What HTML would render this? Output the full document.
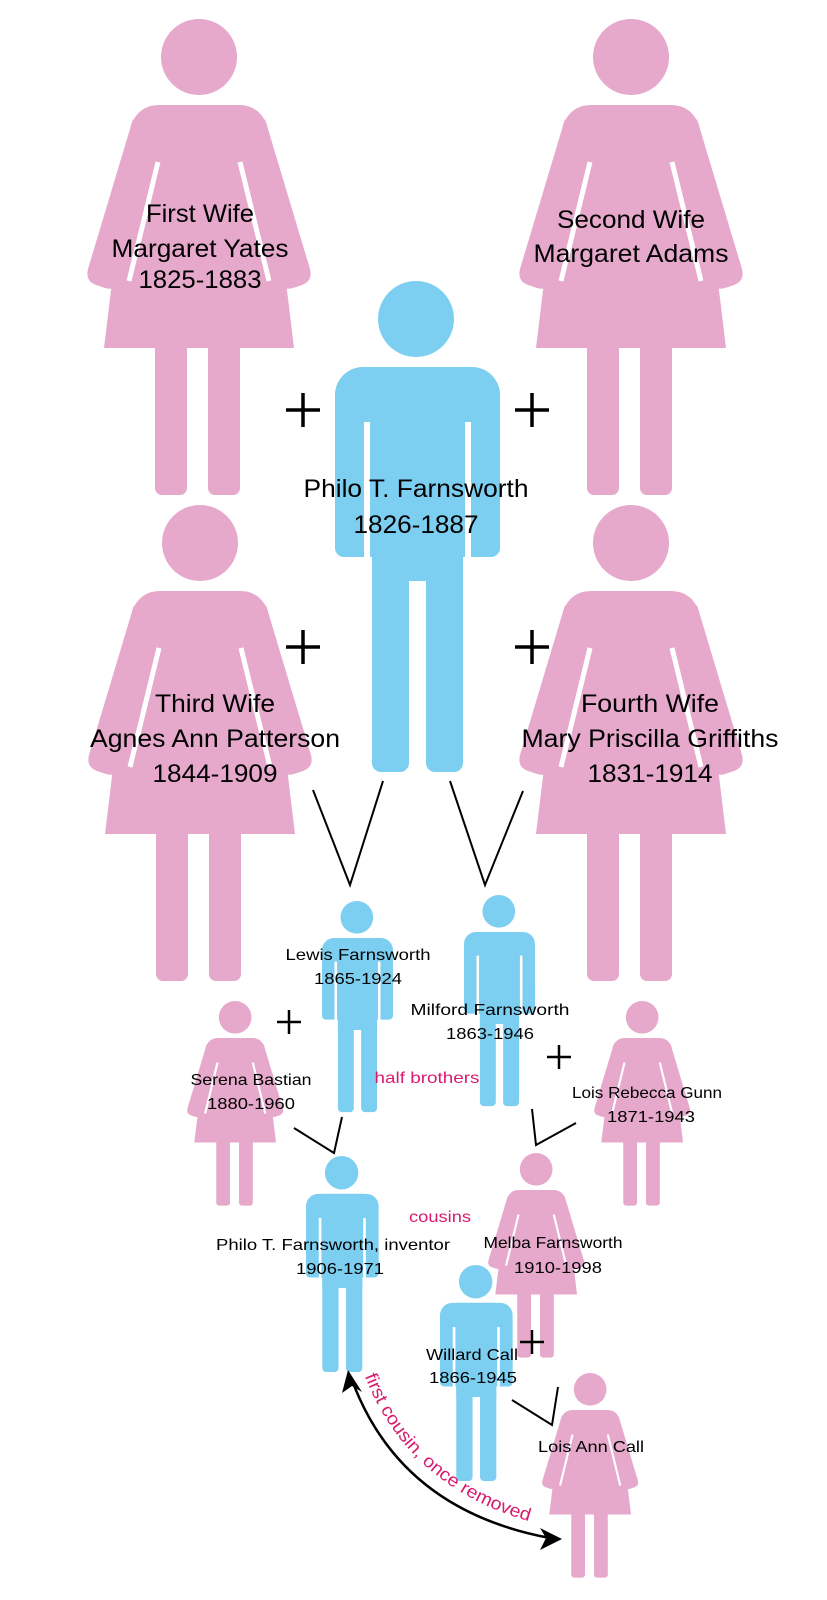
<!DOCTYPE html>
<html><head><meta charset="utf-8"><style>html,body{margin:0;padding:0;background:#fff}svg{display:block}</style></head>
<body>
<svg width="827" height="1600" viewBox="0 0 827 1600" xmlns="http://www.w3.org/2000/svg">
<defs>
<g id="woman">
  <circle cx="112" cy="38" r="38" fill="#e6a9cb"/>
  <path d="M72,86 L152,86 Q172,86 180,106 L207,329 L17,329 L44,106 Q52,86 72,86 Z" fill="#e6a9cb"/>
  <path d="M46,100 L1,250 Q-2,262 9,266 L18,269 Q28,272 31,262 L62,150 Z" fill="#e6a9cb"/>
  <path d="M178,100 L223,250 Q226,262 215,266 L206,269 Q196,272 193,262 L162,150 Z" fill="#e6a9cb"/>
  <line x1="71" y1="143" x2="42" y2="262" stroke="#fff" stroke-width="5"/>
  <line x1="153" y1="143" x2="182" y2="262" stroke="#fff" stroke-width="5"/>
  <rect x="68" y="320" width="32" height="156" rx="7" fill="#e6a9cb"/>
  <rect x="121" y="320" width="32" height="156" rx="7" fill="#e6a9cb"/>
</g>
<g id="man">
  <circle cx="81" cy="38" r="38" fill="#7ccff0"/>
  <rect x="0" y="86" width="165" height="190" rx="28" fill="#7ccff0"/>
  <rect x="0" y="200" width="165" height="76" rx="9" fill="#7ccff0"/>
  <rect x="37" y="86" width="91" height="214" fill="#7ccff0"/>
  <rect x="37" y="270" width="37" height="221" rx="9" fill="#7ccff0"/>
  <rect x="91" y="270" width="37" height="221" rx="9" fill="#7ccff0"/>
  <rect x="29" y="141" width="6" height="140" fill="#fff"/>
  <rect x="130" y="141" width="6" height="140" fill="#fff"/>
</g>
</defs>

<use href="#woman" transform="translate(87,19)"/>
<use href="#woman" transform="translate(519,19)"/>
<use href="#woman" transform="translate(88,505)"/>
<use href="#woman" transform="translate(519,505)"/>
<use href="#man" transform="translate(335,281)"/>

<use href="#man" transform="translate(322,901) scale(0.43)"/>
<use href="#man" transform="translate(464,895) scale(0.43)"/>
<use href="#woman" transform="translate(187,1001) scale(0.43)"/>
<use href="#woman" transform="translate(594,1001) scale(0.43)"/>
<use href="#man" transform="translate(306,1156) scale(0.44)"/>
<use href="#woman" transform="translate(488,1153) scale(0.43)"/>
<use href="#man" transform="translate(440,1265) scale(0.44)"/>
<use href="#woman" transform="translate(542,1373) scale(0.43)"/>

<g stroke="#000" stroke-width="2" fill="none">
  <polyline points="313,790 350,885 383,781"/>
  <polyline points="450,781 485,885 523,791"/>
  <polyline points="294,1128 334,1153 342,1117"/>
  <polyline points="532,1109 536,1145 576,1123"/>
  <polyline points="512,1400 552,1425 558,1387"/>
</g>
<g stroke="#000" stroke-width="3.5">
  <line x1="286" y1="410" x2="320" y2="410"/><line x1="303" y1="393" x2="303" y2="427"/>
  <line x1="515" y1="410" x2="549" y2="410"/><line x1="532" y1="393" x2="532" y2="427"/>
  <line x1="286" y1="647" x2="320" y2="647"/><line x1="303" y1="630" x2="303" y2="664"/>
  <line x1="515" y1="647" x2="549" y2="647"/><line x1="532" y1="630" x2="532" y2="664"/>
</g>
<g stroke="#000" stroke-width="2.5">
  <line x1="277" y1="1022" x2="301" y2="1022"/><line x1="289" y1="1010" x2="289" y2="1034"/>
  <line x1="547" y1="1057" x2="571" y2="1057"/><line x1="559" y1="1045" x2="559" y2="1069"/>
  <line x1="520" y1="1342" x2="544" y2="1342"/><line x1="532" y1="1330" x2="532" y2="1354"/>
</g>

<path d="M352,1380 Q400,1510 550,1538" stroke="#000" stroke-width="2.5" fill="none"/>
<polygon points="348,1370 342,1393 352,1386 362,1392" fill="#000"/>
<polygon points="562,1539 540,1528 546,1538 540,1550" fill="#000"/>
<path id="tp" d="M364,1374 Q410,1496 552,1527" fill="none"/>

<g font-family="'Liberation Sans', sans-serif" fill="#000" text-anchor="middle" font-size="25">
  <text x="200" y="222" textLength="108" lengthAdjust="spacingAndGlyphs">First Wife</text>
  <text x="200" y="257" textLength="177" lengthAdjust="spacingAndGlyphs">Margaret Yates</text>
  <text x="200" y="288" textLength="123" lengthAdjust="spacingAndGlyphs">1825-1883</text>
  <text x="631" y="228" textLength="148" lengthAdjust="spacingAndGlyphs">Second Wife</text>
  <text x="631" y="262" textLength="195" lengthAdjust="spacingAndGlyphs">Margaret Adams</text>
  <text x="416" y="497" textLength="225" lengthAdjust="spacingAndGlyphs">Philo T. Farnsworth</text>
  <text x="416" y="533" textLength="125" lengthAdjust="spacingAndGlyphs">1826-1887</text>
  <text x="215" y="712" textLength="120" lengthAdjust="spacingAndGlyphs">Third Wife</text>
  <text x="215" y="747" textLength="250" lengthAdjust="spacingAndGlyphs">Agnes Ann Patterson</text>
  <text x="215" y="782" textLength="125" lengthAdjust="spacingAndGlyphs">1844-1909</text>
  <text x="650" y="712" textLength="138" lengthAdjust="spacingAndGlyphs">Fourth Wife</text>
  <text x="650" y="747" textLength="257" lengthAdjust="spacingAndGlyphs">Mary Priscilla Griffiths</text>
  <text x="650" y="782" textLength="125" lengthAdjust="spacingAndGlyphs">1831-1914</text>
</g>
<g font-family="'Liberation Sans', sans-serif" fill="#000" text-anchor="middle" font-size="16">
  <text x="358" y="960" textLength="145" lengthAdjust="spacingAndGlyphs">Lewis Farnsworth</text>
  <text x="358" y="984" textLength="88" lengthAdjust="spacingAndGlyphs">1865-1924</text>
  <text x="490" y="1015" textLength="159" lengthAdjust="spacingAndGlyphs">Milford Farnsworth</text>
  <text x="490" y="1039" textLength="88" lengthAdjust="spacingAndGlyphs">1863-1946</text>
  <text x="251" y="1085" textLength="121" lengthAdjust="spacingAndGlyphs">Serena Bastian</text>
  <text x="251" y="1109" textLength="88" lengthAdjust="spacingAndGlyphs">1880-1960</text>
  <text x="647" y="1098" textLength="150" lengthAdjust="spacingAndGlyphs">Lois Rebecca Gunn</text>
  <text x="651" y="1122" textLength="88" lengthAdjust="spacingAndGlyphs">1871-1943</text>
  <text x="333" y="1250" textLength="234" lengthAdjust="spacingAndGlyphs">Philo T. Farnsworth, inventor</text>
  <text x="340" y="1274" textLength="88" lengthAdjust="spacingAndGlyphs">1906-1971</text>
  <text x="553" y="1248" textLength="139" lengthAdjust="spacingAndGlyphs">Melba Farnsworth</text>
  <text x="558" y="1273" textLength="88" lengthAdjust="spacingAndGlyphs">1910-1998</text>
  <text x="472" y="1360" textLength="92" lengthAdjust="spacingAndGlyphs">Willard Call</text>
  <text x="473" y="1383" textLength="88" lengthAdjust="spacingAndGlyphs">1866-1945</text>
  <text x="591" y="1452" textLength="106" lengthAdjust="spacingAndGlyphs">Lois Ann Call</text>
</g>
<g font-family="'Liberation Sans', sans-serif" fill="#d81b6e" font-size="16">
  <text x="427" y="1083" text-anchor="middle" textLength="105" lengthAdjust="spacingAndGlyphs">half brothers</text>
  <text x="440" y="1222" text-anchor="middle" textLength="62" lengthAdjust="spacingAndGlyphs">cousins</text>
  <text font-size="18"><textPath href="#tp" startOffset="2" textLength="228" lengthAdjust="spacingAndGlyphs">first cousin, once removed</textPath></text>
</g>
</svg>
</body></html>
